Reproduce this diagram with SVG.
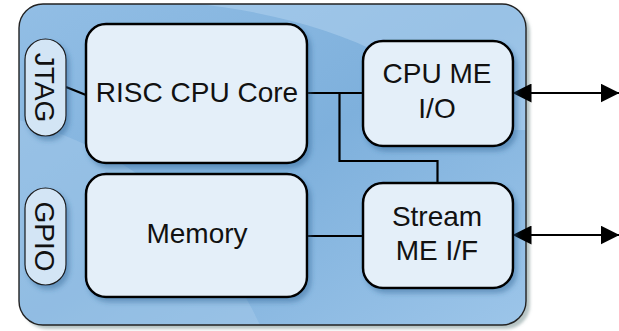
<svg xmlns="http://www.w3.org/2000/svg" width="619" height="331" viewBox="0 0 619 331">
  <defs>
    <linearGradient id="outerGrad" x1="0" y1="0" x2="1" y2="1">
      <stop offset="0" stop-color="#92bee5"/>
      <stop offset="0.5" stop-color="#7eb0dc"/>
      <stop offset="1" stop-color="#9cc5e9"/>
    </linearGradient>
    <filter id="nodeShadow" x="-20%" y="-20%" width="150%" height="150%">
      <feDropShadow dx="3" dy="4" stdDeviation="2.5" flood-color="#2f6493" flood-opacity="0.45"/>
    </filter>
    <filter id="outerShadow" x="-10%" y="-10%" width="120%" height="120%">
      <feDropShadow dx="4" dy="4" stdDeviation="1.5" flood-color="#6f8a8a" flood-opacity="0.5"/>
    </filter>
    <marker id="arrow" viewBox="0 0 19 19" refX="18.5" refY="9.5" markerWidth="19" markerHeight="19" markerUnits="userSpaceOnUse" orient="auto-start-reverse">
      <path d="M0,0 L19,9.5 L0,19 Z" fill="#000"/>
    </marker>
    <clipPath id="outerClip">
      <rect x="19" y="4" width="507" height="321" rx="24" ry="24"/>
    </clipPath>
  </defs>
  <style>
    .node { fill: #e4eff9; stroke: #000; stroke-width: 2.5; filter: url(#nodeShadow); }
    .pill { fill: #d3e5f5; stroke: #1a1a1a; stroke-width: 1.2; filter: url(#nodeShadow); }
    .label { font-family: "Liberation Sans", Arial, sans-serif; font-size: 28px; fill: #111; text-anchor: middle; }
    .conn { fill: none; stroke: #000; stroke-width: 2.2; }
  </style>

  <g id="container">
    <rect x="19" y="4" width="507" height="321" rx="24" ry="24" fill="url(#outerGrad)" filter="url(#outerShadow)"/>
    <g clip-path="url(#outerClip)">
      <path d="M200,4 C330,20 420,60 480,130 L526,130 L526,4 Z" fill="#b3d3ef" opacity="0.5"/>
      <path d="M19,120 C120,150 200,200 260,325 L19,325 Z" fill="#a9cdec" opacity="0.45"/>
    </g>
    <rect x="19" y="4" width="507" height="321" rx="24" ry="24" fill="none" stroke="#222" stroke-width="1.4"/>
  </g>

  <g id="connectors">
    <line class="conn" x1="66" y1="87" x2="86" y2="95"/>
    <line class="conn" x1="307" y1="93" x2="363" y2="93"/>
    <polyline class="conn" points="339.5,93 339.5,161 437.5,161 437.5,183"/>
    <line class="conn" x1="307" y1="236" x2="363" y2="236"/>
    <line class="conn" x1="513" y1="93" x2="619" y2="93" marker-start="url(#arrow)" marker-end="url(#arrow)"/>
    <line class="conn" x1="513" y1="235" x2="619" y2="235" marker-start="url(#arrow)" marker-end="url(#arrow)"/>
  </g>

  <g id="jtag">
    <rect class="pill" x="25" y="39" width="41" height="97" rx="20.5" ry="20.5"/>
    <text class="label" transform="translate(35,87.5) rotate(90)" font-size="29.5">JTAG</text>
  </g>

  <g id="gpio">
    <rect class="pill" x="25" y="188" width="41" height="97" rx="20.5" ry="20.5"/>
    <text class="label" transform="translate(35,236.5) rotate(90)" font-size="29">GPIO</text>
  </g>

  <g id="risc-cpu-core">
    <rect class="node" x="86" y="24" width="221" height="139" rx="20" ry="20"/>
    <text class="label" x="197" y="102" font-size="26.5">RISC CPU Core</text>
  </g>

  <g id="memory">
    <rect class="node" x="86" y="174" width="221" height="123" rx="20" ry="20"/>
    <text class="label" x="197" y="243" font-size="28.5">Memory</text>
  </g>

  <g id="cpu-me-io">
    <rect class="node" x="363" y="41" width="150" height="105" rx="20" ry="20"/>
    <text class="label" x="437" y="83" font-size="28.5">CPU ME</text>
    <text class="label" x="437" y="118" font-size="28.5">I/O</text>
  </g>

  <g id="stream-me-if">
    <rect class="node" x="363" y="183" width="150" height="105" rx="20" ry="20"/>
    <text class="label" x="437" y="225.5" font-size="28.5">Stream</text>
    <text class="label" x="437" y="260" font-size="28.5">ME I/F</text>
  </g>
</svg>
